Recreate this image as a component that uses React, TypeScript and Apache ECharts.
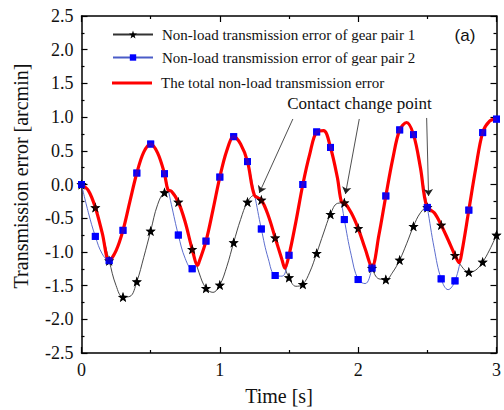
import React, { useEffect, useRef } from "react";
import * as echarts from "echarts";

// ---- data ----
const time = [
  0, 0.05, 0.1, 0.15, 0.2, 0.25, 0.3, 0.35, 0.4, 0.45, 0.5, 0.55, 0.6, 0.65, 0.7, 0.75, 0.8, 0.85, 0.9, 0.95,
  1.0, 1.05, 1.1, 1.15, 1.2, 1.25, 1.3, 1.35, 1.4, 1.45, 1.5, 1.55, 1.6, 1.65, 1.7, 1.75, 1.8, 1.85, 1.9, 1.95,
  2.0, 2.05, 2.1, 2.15, 2.2, 2.25, 2.3, 2.35, 2.4, 2.45, 2.5, 2.55, 2.6, 2.65, 2.7, 2.75, 2.8, 2.85, 2.9, 2.95, 3.0,
];
const gearPair1 = [
  0.0, -0.09, -0.34, -0.72, -1.13, -1.5, -1.67, -1.66, -1.44, -1.08, -0.69, -0.3, -0.12, -0.1, -0.26, -0.56, -0.96, -1.31, -1.54, -1.6,
  -1.49, -1.22, -0.86, -0.52, -0.26, -0.16, -0.23, -0.46, -0.79, -1.12, -1.38, -1.51, -1.48, -1.3, -1.02, -0.72, -0.44, -0.28, -0.27, -0.42,
  -0.65, -0.95, -1.24, -1.4, -1.41, -1.3, -1.12, -0.88, -0.62, -0.42, -0.34, -0.42, -0.6, -0.82, -1.05, -1.22, -1.3, -1.27, -1.15, -0.97, -0.75,
];
const gearPair2 = [
  0.0, -0.42, -0.77, -1.03, -1.13, -0.98, -0.68, -0.25, 0.17, 0.48, 0.6, 0.47, 0.16, -0.3, -0.75, -1.1, -1.25, -1.15, -0.84, -0.38,
  0.11, 0.5, 0.71, 0.6, 0.34, -0.14, -0.66, -1.1, -1.35, -1.36, -1.05, -0.55, 0.0, 0.45, 0.78, 0.8, 0.55, 0.1, -0.52, -1.05,
  -1.41, -1.47, -1.24, -0.75, -0.17, 0.38, 0.81, 0.92, 0.74, 0.25, -0.34, -0.95, -1.4, -1.56, -1.43, -1.0, -0.38, 0.24, 0.77, 0.94, 0.97,
];
const totalTime = [
  0, 0.05, 0.1, 0.15, 0.2, 0.25, 0.3, 0.35, 0.4, 0.45, 0.5, 0.55, 0.6, 0.625, 0.65, 0.7, 0.75, 0.8, 0.84, 0.85,
  0.9, 0.95, 1.0, 1.05, 1.1, 1.15, 1.2, 1.25, 1.3, 1.35, 1.4, 1.45, 1.47, 1.5, 1.55, 1.6, 1.65, 1.7, 1.75, 1.8,
  1.85, 1.88, 1.9, 1.95, 2.0, 2.05, 2.1, 2.15, 2.2, 2.25, 2.3, 2.35, 2.4, 2.45, 2.495, 2.55, 2.6, 2.65, 2.7, 2.73,
  2.75, 2.8, 2.85, 2.9, 2.95, 3.0,
];
const totalError = [
  0, -0.09, -0.34, -0.72, -1.13, -0.98, -0.68, -0.25, 0.17, 0.48, 0.6, 0.47, 0.16, -0.08, -0.1, -0.26, -0.56, -0.96, -1.2, -1.15,
  -0.84, -0.38, 0.11, 0.5, 0.71, 0.6, 0.34, -0.16, -0.23, -0.46, -0.79, -1.12, -1.24, -1.05, -0.55, 0.0, 0.45, 0.78, 0.8, 0.55,
  0.1, -0.26, -0.27, -0.42, -0.65, -0.95, -1.22, -0.75, -0.17, 0.38, 0.81, 0.92, 0.74, 0.25, -0.32, -0.42, -0.6, -0.82, -1.05, -1.16,
  -1.0, -0.38, 0.24, 0.77, 0.94, 0.97,
];
// arrows: start and end points, in data units [t, v]
const arrowStart = [
  [1.528, 0.972],
  [2.008, 0.972],
  [2.495, 0.987],
];
const arrowEnd = [
  [1.285, -0.126],
  [1.908, -0.141],
  [2.509, -0.171],
];
const names = [
  "Non-load transmission error of gear pair 1",
  "Non-load transmission error of gear pair 2",
  "The total non-load transmission error",
];

// ---- styles ----
function starPath(): string {
  const pts: string[] = [];
  for (let k = 0; k < 10; k++) {
    const a = (-90 + k * 36) * (Math.PI / 180);
    const r = k % 2 === 0 ? 50 : 20;
    pts.push(`${(50 + r * Math.cos(a)).toFixed(2)} ${(50 + r * Math.sin(a)).toFixed(2)}`);
  }
  return "path://M" + pts.join(" L") + " Z";
}
const STAR = starPath();
const SERIF = "Liberation Serif";

export default function App() {
  const ref = useRef<HTMLDivElement>(null);
  useEffect(() => {
    if (!ref.current) return;
    const chart = echarts.init(ref.current, undefined, { renderer: "svg" });
    const markersOnly = (vals: number[]) =>
      time.map((t, i) => [t, vals[i]]).filter((_, i) => i % 2 === 0);

    const axisCommon = {
      type: "value" as const,
      axisLine: { show: true, onZero: false, lineStyle: { color: "#000", width: 1.5 } },
      axisTick: { show: true, inside: true, length: 6, lineStyle: { color: "#000", width: 1.2 } },
      minorTick: { show: true, splitNumber: 2, length: 3, lineStyle: { color: "#000", width: 1.2 } },
      splitLine: { show: false },
      minorSplitLine: { show: false },
    };
    const labelStyle = { fontFamily: SERIF, fontSize: 18, color: "#111" };
    const legendText = { fontFamily: SERIF, fontSize: 15, color: "#111", padding: [0, 0, 0, 4] };

    chart.setOption({
      animation: false,
      grid: { left: 81.5, top: 16, width: 419, height: 337, containLabel: false },
      legend: [
        {
          data: [names[0]],
          left: 112,
          top: 27,
          padding: 0,
          itemWidth: 40,
          itemHeight: 10,
          selectedMode: false,
          textStyle: legendText,
        },
        {
          data: [names[1]],
          left: 112,
          top: 50,
          padding: 0,
          itemWidth: 40,
          itemHeight: 8,
          selectedMode: false,
          textStyle: legendText,
        },
        {
          data: [{ name: names[2], icon: "rect" }],
          left: 112,
          top: 75.5,
          padding: 0,
          itemWidth: 40,
          itemHeight: 3,
          selectedMode: false,
          textStyle: legendText,
        },
      ],
      xAxis: [
        {
          ...axisCommon,
          position: "bottom",
          min: 0,
          max: 3,
          interval: 1,
          axisLabel: { ...labelStyle, margin: 8 },
        },
        {
          ...axisCommon,
          position: "top",
          min: 0,
          max: 3,
          interval: 1,
          axisLabel: { show: false },
        },
      ],
      yAxis: [
        {
          ...axisCommon,
          position: "left",
          min: -2.5,
          max: 2.5,
          interval: 0.5,
          axisLabel: { ...labelStyle, margin: 8, formatter: (v: number) => v.toFixed(1) },
        },
        {
          ...axisCommon,
          position: "right",
          min: -2.5,
          max: 2.5,
          interval: 0.5,
          axisLabel: { show: false },
        },
      ],
      series: [
        {
          name: names[0],
          type: "line",
          z: 2,
          smooth: 0.4,
          data: time.map((t, i) =>
            i % 2 === 0 ? [t, gearPair1[i]] : { value: [t, gearPair1[i]], symbol: "none" }
          ),
          symbol: STAR,
          symbolSize: 10,
          showAllSymbol: true,
          lineStyle: { color: "#333", width: 0.9 },
          itemStyle: { color: "#000" },
          emphasis: { disabled: true },
          markLine: {
            silent: true,
            symbol: ["none", "arrow"],
            symbolSize: 7,
            label: { show: false },
            lineStyle: { color: "#222", width: 0.8, type: "solid" },
            data: arrowStart.map((s, i) => [{ coord: s }, { coord: arrowEnd[i] }]),
          },
        },
        {
          name: names[1],
          type: "line",
          z: 2,
          smooth: 0.4,
          data: time.map((t, i) =>
            i % 2 === 0 ? [t, gearPair2[i]] : { value: [t, gearPair2[i]], symbol: "none" }
          ),
          symbol: "rect",
          symbolSize: 7,
          showAllSymbol: true,
          lineStyle: { color: "#4a5cc8", width: 0.9 },
          itemStyle: { color: "#0000ff" },
          emphasis: { disabled: true },
        },
        {
          name: names[2],
          type: "line",
          z: 3,
          smooth: 0.35,
          data: totalTime.map((t, i) => [t, totalError[i]]),
          symbol: "none",
          lineStyle: { color: "#ff0000", width: 3.2 },
          itemStyle: { color: "#ff0000" },
          emphasis: { disabled: true },
        },
        {
          name: "markers1",
          type: "scatter",
          z: 4,
          data: markersOnly(gearPair1),
          symbol: STAR,
          symbolSize: 10,
          itemStyle: { color: "#000" },
          emphasis: { disabled: true },
          silent: true,
        },
        {
          name: "markers2",
          type: "scatter",
          z: 4,
          data: markersOnly(gearPair2),
          symbol: "rect",
          symbolSize: 7,
          itemStyle: { color: "#0000ff" },
          emphasis: { disabled: true },
          silent: true,
        },
      ],
      graphic: [
        {
          type: "text",
          x: 279,
          y: 396,
          style: { text: "Time [s]", font: `20px ${SERIF}`, fill: "#111", textAlign: "center", textVerticalAlign: "middle" },
        },
        {
          type: "text",
          x: 21,
          y: 176,
          rotation: Math.PI / 2,
          style: {
            text: "Transmission error [arcmin]",
            font: `20px ${SERIF}`,
            fill: "#111",
            textAlign: "center",
            textVerticalAlign: "middle",
          },
        },
        {
          type: "text",
          x: 359.5,
          y: 103,
          style: {
            text: "Contact change point",
            font: `17px ${SERIF}`,
            fill: "#111",
            textAlign: "center",
            textVerticalAlign: "middle",
          },
        },
        {
          type: "text",
          x: 465,
          y: 35,
          style: {
            text: "(a)",
            font: `17px Liberation Sans`,
            fill: "#111",
            textAlign: "center",
            textVerticalAlign: "middle",
          },
        },
      ],
    });
    return () => chart.dispose();
  }, []);
  return <div ref={ref} style={{ width: 504, height: 410, position: "absolute", left: 0, top: 0 }} />;
}
